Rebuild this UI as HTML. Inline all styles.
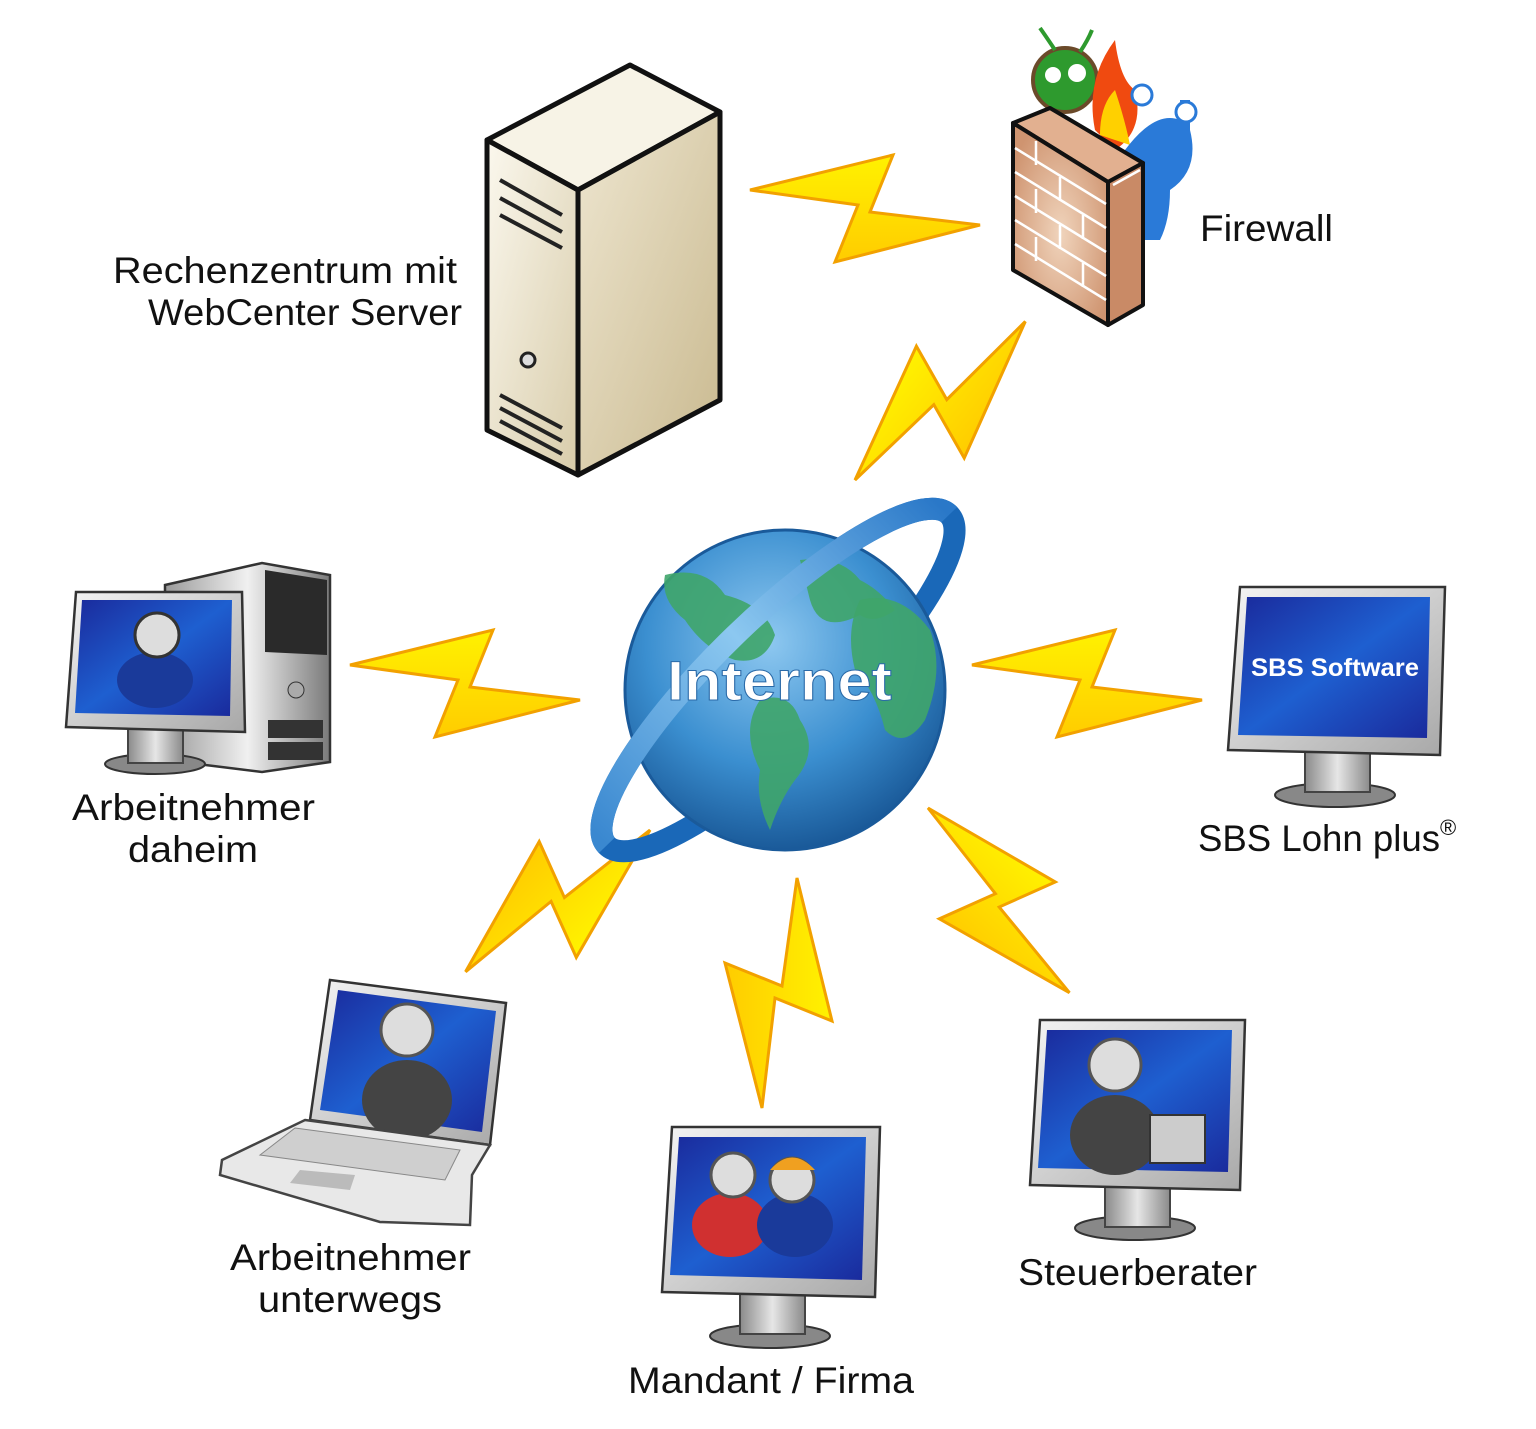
<!DOCTYPE html>
<html><head><meta charset="utf-8"><style>html,body{margin:0;padding:0;background:#fff}svg{display:block}</style></head>
<body>
<svg width="1536" height="1429" viewBox="0 0 1536 1429" xmlns="http://www.w3.org/2000/svg" font-family="Liberation Sans, DejaVu Sans, sans-serif">
<defs>
<linearGradient id="bolt" x1="0" y1="0" x2="0" y2="1"><stop offset="0" stop-color="#fff200"/><stop offset="1" stop-color="#ffcc00"/></linearGradient>
<linearGradient id="scr" x1="0" y1="0" x2="1" y2="1"><stop offset="0" stop-color="#1a2a9c"/><stop offset="0.5" stop-color="#1e5fd0"/><stop offset="1" stop-color="#1a2a9c"/></linearGradient>
<linearGradient id="bez" x1="0" y1="0" x2="1" y2="1"><stop offset="0" stop-color="#f4f4f4"/><stop offset="1" stop-color="#a8a8a8"/></linearGradient>
<linearGradient id="neck" x1="0" y1="0" x2="1" y2="0"><stop offset="0" stop-color="#8a8a8a"/><stop offset="0.5" stop-color="#e6e6e6"/><stop offset="1" stop-color="#8a8a8a"/></linearGradient>
<linearGradient id="srvF" x1="0" y1="0" x2="1" y2="1"><stop offset="0" stop-color="#fbf8ee"/><stop offset="1" stop-color="#d8ccaa"/></linearGradient>
<linearGradient id="srvS" x1="0" y1="0" x2="1" y2="1"><stop offset="0" stop-color="#eee6d0"/><stop offset="1" stop-color="#c9b98f"/></linearGradient>
<radialGradient id="wall" cx="0.5" cy="0.55" r="0.6"><stop offset="0" stop-color="#f0d4bc"/><stop offset="1" stop-color="#cf9470"/></radialGradient>
<radialGradient id="globe" cx="0.45" cy="0.35" r="0.7"><stop offset="0" stop-color="#8ec8f0"/><stop offset="0.55" stop-color="#3b8fd0"/><stop offset="1" stop-color="#14508f"/></radialGradient>
<linearGradient id="ring" x1="0" y1="0" x2="1" y2="0"><stop offset="0" stop-color="#3a88d0"/><stop offset="0.5" stop-color="#8cc8f0"/><stop offset="1" stop-color="#2a78c8"/></linearGradient>
<linearGradient id="tower" x1="0" y1="0" x2="1" y2="0"><stop offset="0" stop-color="#9a9a9a"/><stop offset="0.5" stop-color="#f0f0f0"/><stop offset="1" stop-color="#7a7a7a"/></linearGradient>
<polygon id="b" points="0,0 143,-35 120,22 230,35 85,72 108,15" fill="url(#bolt)" stroke="#f2a100" stroke-width="3" stroke-linejoin="miter"/>
<g id="person"><ellipse cx="0" cy="70" rx="45" ry="40" fill="#444"/><circle cx="0" cy="0" r="26" fill="#ddd" stroke="#555" stroke-width="3"/></g>
</defs>

<use href="#b" transform="translate(750,190)"/>
<use href="#b" transform="translate(350,665)"/>
<use href="#b" transform="translate(972,665)"/>
<use href="#b" transform="translate(855,480) rotate(-51.6)"/>
<use href="#b" transform="translate(650,830) rotate(133.8)"/>
<use href="#b" transform="translate(797,878) rotate(90)"/>
<use href="#b" transform="translate(928,808) rotate(43.9)"/>

<g stroke="#111" stroke-width="5" stroke-linejoin="round">
<polygon points="487,140 630,65 720,112 578,190" fill="#f7f3e6"/>
<polygon points="578,190 720,112 720,400 578,475" fill="url(#srvS)"/>
<polygon points="487,140 578,190 578,475 487,430" fill="url(#srvF)"/>
</g>
<g stroke="#222" stroke-width="4" fill="none">
<path d="M500,180 L562,215"/><path d="M500,198 L562,232"/><path d="M500,215 L562,248"/>
<path d="M500,395 L562,428"/><path d="M500,408 L562,441"/><path d="M500,421 L562,454"/>
</g>
<circle cx="528" cy="360" r="7" fill="#ddd" stroke="#222" stroke-width="3"/>

<text x="113" y="283" font-size="37" textLength="344" lengthAdjust="spacingAndGlyphs" fill="#111">Rechenzentrum mit</text>
<text x="148" y="325" font-size="37" textLength="314" lengthAdjust="spacingAndGlyphs" fill="#111">WebCenter Server</text>

<circle cx="1065" cy="80" r="32" fill="#2e9a2e" stroke="#6b4a2a" stroke-width="4"/>
<circle cx="1053" cy="75" r="8" fill="#fff"/><circle cx="1077" cy="73" r="9" fill="#fff"/>
<path d="M1055,50 q-10,-15 -15,-22 M1080,52 q8,-12 12,-22" stroke="#2e9a2e" stroke-width="4" fill="none"/>
<path d="M1095,130 q-10,-50 20,-90 q5,40 20,50 q10,40 -20,60 z" fill="#f04a10"/>
<path d="M1100,135 q0,-30 15,-45 q10,30 15,55 z" fill="#ffd000"/>
<path d="M1125,150 q30,-40 55,-30 l0,-20 l10,0 l0,30 q10,40 -20,60 q0,30 -10,50 l-20,0 z" fill="#2a7ad8"/>
<circle cx="1142" cy="95" r="10" fill="#fff" stroke="#2a7ad8" stroke-width="3"/>
<circle cx="1186" cy="112" r="10" fill="#fff" stroke="#2a7ad8" stroke-width="3"/>
<g stroke="#111" stroke-width="4" stroke-linejoin="round">
<polygon points="1013,123 1050,108 1143,163 1108,182" fill="#e2b090"/>
<polygon points="1108,182 1143,163 1143,305 1108,325" fill="#c98a66"/>
<polygon points="1013,123 1108,182 1108,325 1013,270" fill="url(#wall)"/>
</g>
<g stroke="#fff" stroke-width="2.5" fill="none">
<path d="M1015,148 L1106,204 M1015,172 L1106,228 M1015,196 L1106,252 M1015,220 L1106,276 M1015,244 L1106,300"/>
<path d="M1036,141 L1036,165 M1060,177 L1060,201 M1036,189 L1036,213 M1083,215 L1083,239 M1060,225 L1060,249 M1036,237 L1036,261 M1083,263 L1083,287"/>
<path d="M1113,185 L1140,170"/>
</g>
<text x="1200" y="241" font-size="37" textLength="133" lengthAdjust="spacingAndGlyphs" fill="#111">Firewall</text>

<g transform="translate(778,680) rotate(-44)">
<ellipse cx="0" cy="0" rx="238" ry="62" fill="none" stroke="#1a68b8" stroke-width="22"/>
</g>
<circle cx="785" cy="690" r="160" fill="url(#globe)" stroke="#1a5a9a" stroke-width="3"/>
<path d="M665,575 q40,-10 60,20 q40,10 50,40 q-10,30 -40,25 q-30,-10 -50,-40 q-25,-20 -20,-45z" fill="#3fa56a" opacity="0.9"/>
<path d="M800,560 q40,-5 60,20 q20,10 35,30 q-20,15 -35,5 q-40,20 -50,-15z" fill="#3fa56a" opacity="0.9"/>
<path d="M860,600 q40,-10 70,30 q15,40 -5,90 q-20,30 -40,10 q-10,-40 -30,-60 q-10,-40 5,-70z" fill="#3fa56a" opacity="0.9"/>
<path d="M760,700 q30,-10 40,20 q20,30 -5,60 q-15,20 -25,50 q-15,-30 -10,-60 q-20,-40 0,-70z" fill="#3fa56a" opacity="0.9"/>
<g transform="translate(778,680) rotate(-44)">
<path d="M-238,0 A238,62 0 0 1 238,0" fill="none" stroke="url(#ring)" stroke-width="22"/>
</g>
<text x="667" y="700" font-size="56" font-weight="bold" textLength="225" lengthAdjust="spacingAndGlyphs" fill="#fff" stroke="#2a6aa8" stroke-width="1">Internet</text>

<ellipse cx="1335" cy="795" rx="60" ry="12" fill="#888" stroke="#333" stroke-width="2"/>
<rect x="1305" y="750" width="65" height="42" fill="url(#neck)" stroke="#444" stroke-width="2"/>
<polygon points="1240,587 1445,587 1440,755 1228,750" fill="url(#bez)" stroke="#333" stroke-width="2.5"/>
<polygon points="1247,597 1430,597 1427,738 1238,735" fill="url(#scr)"/>
<text x="1251" y="676" font-size="25" font-weight="bold" textLength="168" lengthAdjust="spacingAndGlyphs" fill="#fff">SBS Software</text>
<text x="1198" y="851" font-size="37" fill="#111"><tspan textLength="242" lengthAdjust="spacingAndGlyphs">SBS Lohn plus</tspan><tspan font-size="22" dy="-16">®</tspan></text>

<ellipse cx="1135" cy="1228" rx="60" ry="12" fill="#888" stroke="#333" stroke-width="2"/>
<rect x="1105" y="1185" width="65" height="42" fill="url(#neck)" stroke="#444" stroke-width="2"/>
<polygon points="1040,1020 1245,1020 1240,1190 1030,1185" fill="url(#bez)" stroke="#333" stroke-width="2.5"/>
<polygon points="1047,1030 1232,1030 1228,1172 1038,1168" fill="url(#scr)"/>
<use href="#person" transform="translate(1115,1065)"/>
<rect x="1150" y="1115" width="55" height="48" fill="#ccc" stroke="#333" stroke-width="2"/>
<text x="1018" y="1285" font-size="37" textLength="239" lengthAdjust="spacingAndGlyphs" fill="#111">Steuerberater</text>

<ellipse cx="770" cy="1336" rx="60" ry="12" fill="#888" stroke="#333" stroke-width="2"/>
<rect x="740" y="1292" width="65" height="42" fill="url(#neck)" stroke="#444" stroke-width="2"/>
<polygon points="672,1127 880,1127 875,1297 662,1292" fill="url(#bez)" stroke="#333" stroke-width="2.5"/>
<polygon points="679,1137 866,1137 862,1280 670,1275" fill="url(#scr)"/>
<ellipse cx="730" cy="1225" rx="38" ry="32" fill="#d03030"/>
<circle cx="733" cy="1175" r="22" fill="#ddd" stroke="#555" stroke-width="3"/>
<ellipse cx="795" cy="1225" rx="38" ry="32" fill="#1a3a9a"/>
<circle cx="792" cy="1180" r="22" fill="#ddd" stroke="#555" stroke-width="3"/>
<path d="M770,1170 q22,-25 45,0z" fill="#f0a020"/>
<text x="628" y="1393" font-size="37" textLength="286" lengthAdjust="spacingAndGlyphs" fill="#111">Mandant / Firma</text>

<polygon points="330,980 506,1003 490,1145 310,1120" fill="url(#bez)" stroke="#333" stroke-width="2.5"/>
<polygon points="338,990 496,1011 482,1132 320,1110" fill="url(#scr)"/>
<use href="#person" transform="translate(407,1030)"/>
<polygon points="305,1120 490,1145 472,1175 470,1225 380,1222 220,1175 222,1160" fill="#e8e8e8" stroke="#444" stroke-width="2.5"/>
<polygon points="295,1128 460,1150 445,1180 260,1155" fill="#cfcfcf" stroke="#888" stroke-width="1"/>
<polygon points="300,1170 355,1175 350,1190 290,1183" fill="#bbb"/>
<text x="230" y="1270" font-size="37" textLength="241" lengthAdjust="spacingAndGlyphs" fill="#111">Arbeitnehmer</text>
<text x="258" y="1312" font-size="37" textLength="184" lengthAdjust="spacingAndGlyphs" fill="#111">unterwegs</text>

<polygon points="165,585 262,563 330,575 330,762 262,772 165,760" fill="url(#tower)" stroke="#333" stroke-width="2.5"/>
<polygon points="265,570 327,580 327,655 265,652" fill="#2a2a2a"/>
<rect x="268" y="720" width="55" height="18" fill="#333"/><rect x="268" y="742" width="55" height="18" fill="#333"/>
<circle cx="296" cy="690" r="8" fill="#aaa" stroke="#333"/>
<ellipse cx="155" cy="764" rx="50" ry="10" fill="#888" stroke="#333" stroke-width="2"/>
<rect x="128" y="725" width="55" height="38" fill="url(#neck)" stroke="#444" stroke-width="2"/>
<polygon points="76,592 242,592 245,732 66,727" fill="url(#bez)" stroke="#333" stroke-width="2.5"/>
<polygon points="82,600 232,600 230,716 75,713" fill="url(#scr)"/>
<ellipse cx="155" cy="680" rx="38" ry="28" fill="#1a3a9a"/>
<circle cx="157" cy="635" r="22" fill="#ddd" stroke="#333" stroke-width="3"/>
<text x="72" y="820" font-size="37" textLength="243" lengthAdjust="spacingAndGlyphs" fill="#111">Arbeitnehmer</text>
<text x="128" y="862" font-size="37" textLength="130" lengthAdjust="spacingAndGlyphs" fill="#111">daheim</text>
</svg>
</body></html>
